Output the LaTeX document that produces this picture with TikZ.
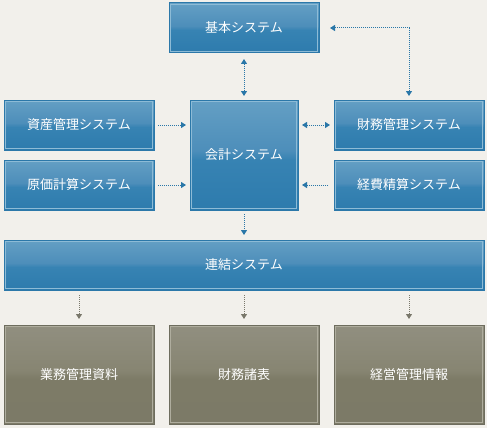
\documentclass[tikz,border=0pt]{standalone}
\usepackage{fontspec}
\setmainfont{Noto Sans CJK JP}
\usetikzlibrary{arrows.meta,calc}
\definecolor{bgc}{HTML}{F2F0EB}
\definecolor{blueedge}{HTML}{2C78A9}
\definecolor{bluein}{HTML}{8DBBD6}
\definecolor{grayedge}{HTML}{6E6D5E}
\definecolor{grayin}{HTML}{AFAD9E}
\definecolor{bTop}{HTML}{649FC4}
\definecolor{bMidU}{HTML}{4D8EBA}
\definecolor{bMidL}{HTML}{3783B3}
\definecolor{bBot}{HTML}{2D7BAD}
\definecolor{gTop}{HTML}{918F80}
\definecolor{gMidU}{HTML}{878572}
\definecolor{gMidL}{HTML}{7D7B67}
\definecolor{gBot}{HTML}{7C7A67}
\definecolor{arrowblue}{HTML}{2A77A8}
\definecolor{arrowgray}{HTML}{7A786B}
\pgfdeclareverticalshading{bluegloss}{100bp}{color(0bp)=(bBot); color(25bp)=(bBot); color(48bp)=(bMidL); color(52bp)=(bMidU); color(75bp)=(bTop); color(100bp)=(bTop)}
\pgfdeclareverticalshading{graygloss}{100bp}{color(0bp)=(gBot); color(25bp)=(gBot); color(48bp)=(gMidL); color(52bp)=(gMidU); color(75bp)=(gTop); color(100bp)=(gTop)}
\begin{document}
\begin{tikzpicture}[x=1pt,y=-1pt,
  sysbox/.style={rectangle, inner sep=0pt, outer sep=0pt, draw=blueedge, line width=1pt,
    shading=bluegloss, text=white, font=\fontsize{13}{15}\selectfont,
    minimum width=150pt, minimum height=50pt},
  outbox/.style={sysbox, draw=grayedge, shading=graygloss, minimum height=99pt},
  innerblue/.style={draw=bluein, line width=0.8pt},
  innergray/.style={draw=grayin, line width=0.8pt},
  conn/.style={draw=arrowblue, line width=1pt, dash pattern=on 1pt off 1pt},
  conngray/.style={draw=arrowgray, line width=1pt, dash pattern=on 1pt off 1pt},
  tipb/.style={-{Triangle[width=6pt,length=5pt,fill=arrowblue,color=arrowblue]}},
  tipbb/.style={{Triangle[width=6pt,length=5pt,fill=arrowblue,color=arrowblue]}-{Triangle[width=6pt,length=5pt,fill=arrowblue,color=arrowblue]}},
  tipg/.style={-{Triangle[width=6pt,length=5pt,fill=arrowgray,color=arrowgray]}}
]
\fill[bgc] (0,0) rectangle (487,428);
\useasboundingbox (0,0) rectangle (487,428);

\node[sysbox] (kihon) at (244,28) {基本システム};
\node[sysbox] (shisan) at (79,125) {資産管理システム};
\node[sysbox] (genka) at (79,185) {原価計算システム};
\node[sysbox, minimum width=108pt, minimum height=110pt] (kaikei) at (244,155) {会計システム};
\node[sysbox] (zaimu) at (409,125) {財務管理システム};
\node[sysbox] (keihi) at (409,185) {経費精算システム};
\node[sysbox, minimum width=480pt] (renketsu) at (244,265) {連結システム};
\node[outbox] (gyomu) at (79,374.5) {業務管理資料};
\node[outbox] (shohyo) at (244,374.5) {財務諸表};
\node[outbox] (keiei) at (409,374.5) {経営管理情報};

\foreach \n in {kihon,shisan,genka,kaikei,zaimu,keihi,renketsu}
  \draw[innerblue] ([shift={(1.8pt,1.8pt)}]\n.south west) rectangle ([shift={(-1.8pt,-1.8pt)}]\n.north east);
\foreach \n in {gyomu,shohyo,keiei}
  \draw[innergray] ([shift={(1.8pt,1.8pt)}]\n.south west) rectangle ([shift={(-1.8pt,-1.8pt)}]\n.north east);

% connectors
\draw[conn, tipbb, shorten <=6pt, shorten >=4pt] (kihon.south) -- (kihon.south |- kaikei.north);
\draw[conn, tipbb, shorten <=11pt, shorten >=4pt] (kihon.east) -| (zaimu.north);
\draw[conn, tipb, shorten <=4pt, shorten >=4pt] (shisan.east) -- (shisan.east -| kaikei.west);
\draw[conn, tipb, shorten <=4pt, shorten >=4pt] (genka.east) -- (genka.east -| kaikei.west);
\draw[conn, tipbb, shorten <=4pt, shorten >=4pt] (zaimu.west -| kaikei.east) -- (zaimu.west);
\draw[conn, tipb, shorten <=6pt, shorten >=4pt] (keihi.west) -- (keihi.west -| kaikei.east);
\draw[conn, tipb, shorten <=4pt, shorten >=5pt] (kaikei.south) -- (kaikei.south |- renketsu.north);
\foreach \n in {gyomu,shohyo,keiei}
  \draw[conngray, tipg, shorten <=5pt, shorten >=6pt] (renketsu.south -| \n.north) -- (\n.north);
\end{tikzpicture}
\end{document}
